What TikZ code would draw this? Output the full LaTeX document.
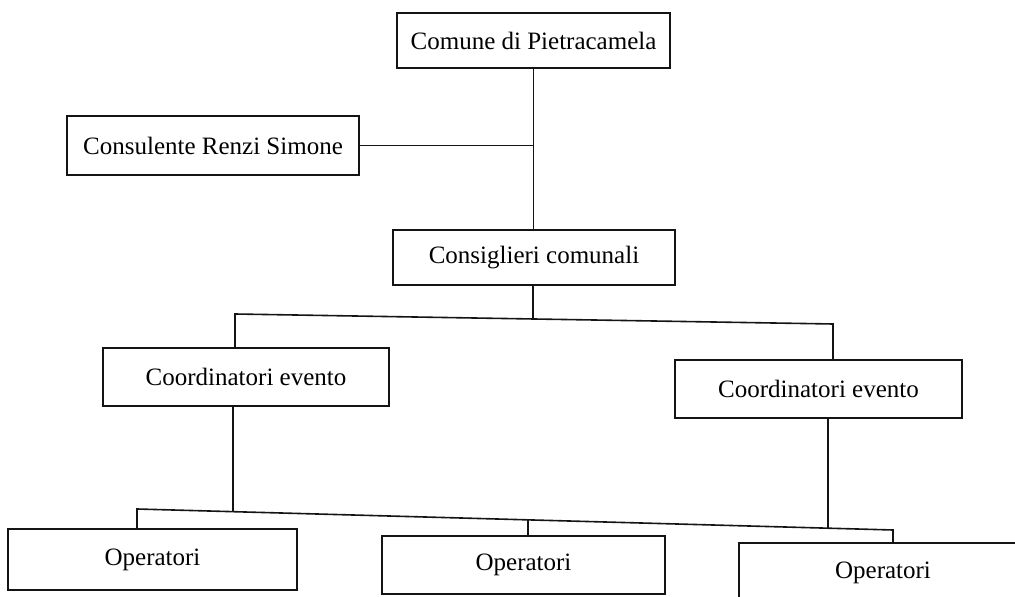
\documentclass[tikz,border=0pt]{standalone}
\usepackage{fontspec}
\setmainfont{Liberation Serif}
\usepackage{tikz}
\usetikzlibrary{positioning,calc}
\definecolor{InkK}{RGB}{20,20,20}

\begin{document}
\begin{tikzpicture}[x=0.5pt,y=-0.5pt,
    orgbox/.style={draw=InkK,line width=1pt,fill=white,inner sep=0pt,
      font=\fontsize{12.5}{15}\selectfont},
    link/.style={InkK,line width=0.8pt}]
  \clip (0,0) rectangle (1015,597);
  % boxes
  \node[orgbox,minimum width=136.5pt,minimum height=27.5pt] (comune) at (533.5,40.5) {Comune di Pietracamela};
  \node[orgbox,minimum width=146pt,minimum height=29.5pt] (consulente) at (213,145.5) {Consulente Renzi Simone};
  \node[orgbox,minimum width=141pt,minimum height=27.5pt] (consiglieri) at (534,257.5) {Consiglieri comunali};
  \node[orgbox,minimum width=143pt,minimum height=29pt] (coordL) at (246,377) {Coordinatori evento};
  \node[orgbox,minimum width=143.5pt,minimum height=29pt] (coordR) at (818.5,389) {Coordinatori evento};
  \node[orgbox,minimum width=144.5pt,minimum height=30.5pt] (opL) at (152.5,559.5) {Operatori};
  \node[orgbox,minimum width=141.5pt,minimum height=29pt] (opM) at (523.5,565) {Operatori};
  \node[orgbox,minimum width=144pt,minimum height=30pt] (opR) at (883,573) {Operatori};
  % junctions
  \coordinate (busL) at (235,314);
  \coordinate (busR) at (833,324);
  \coordinate (busA) at (533,319);
  \coordinate (lowL) at (137,509);
  \coordinate (lowR) at (893,530);
  \coordinate (lowA) at (233,511.7);
  \coordinate (lowM) at (528,519.9);
  \coordinate (lowB) at (828,528.2);
  % connectors
  \draw[link] (comune.south) -- (comune.south |- consiglieri.north);
  \draw[link] (consulente.east) -- (consulente.east -| comune.south);
  \draw[link] (consiglieri.south -| busA) -- (busA);
  \draw[link] (busL |- coordL.north) -- (busL) -- (busR) -- (busR |- coordR.north);
  \draw[link] (coordL.south -| lowA) -- (lowA);
  \draw[link] (coordR.south -| lowB) -- (lowB);
  \draw[link] (lowL |- opL.north) -- (lowL) -- (lowR) -- (lowR |- opR.north);
  \draw[link] (lowM) -- (lowM |- opM.north);
\end{tikzpicture}
\end{document}
